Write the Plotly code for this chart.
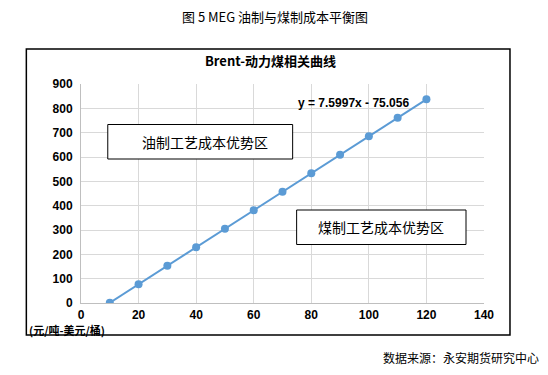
import plotly.graph_objects as go

# Data
brent = [10, 20, 30, 40, 50, 60, 70, 80, 90, 100, 110, 120]
coal = [1, 77, 153, 229, 305, 381, 457, 533, 609, 685, 761, 837]
x_ticks = [0, 20, 40, 60, 80, 100, 120, 140]
y_ticks = [0, 100, 200, 300, 400, 500, 600, 700, 800, 900]

W, H = 548, 375
L, R, T, B = 80.7, 484.0, 84.0, 303.0


def px(x):
    return (x - L) / (R - L)


def py(y):
    return (B - y) / (B - T)


BLUE = "#5B9BD5"
CJK = "Noto Sans CJK SC, Microsoft YaHei, sans-serif"
NUM = "Liberation Sans, Arial, sans-serif"

fig = go.Figure()
fig.add_trace(go.Scatter(
    x=brent, y=coal, mode="lines+markers",
    line=dict(color=BLUE, width=2),
    marker=dict(color=BLUE, size=8),
    showlegend=False, hoverinfo="skip",
))

fig.update_layout(
    width=W, height=H,
    margin=dict(l=L, r=W - R, t=T, b=H - B),
    paper_bgcolor="white", plot_bgcolor="white",
    xaxis=dict(range=[0, 140], tickvals=x_ticks, showgrid=True, gridcolor="#D9D9D9",
               gridwidth=1, zeroline=False, showline=True, linecolor="#BFBFBF",
               tickfont=dict(family=NUM, size=12, color="black", weight="bold"),
               ticks="", ticklabelstandoff=1, mirror=False),
    yaxis=dict(range=[0, 900], tickvals=y_ticks, showgrid=True, gridcolor="#D9D9D9",
               gridwidth=1, zeroline=False, showline=True, linecolor="#BFBFBF",
               tickfont=dict(family=NUM, size=12, color="black", weight="bold"),
               ticks="", ticklabelstandoff=5),
)

shapes = [
    # outer chart frame
    dict(type="rect", xref="paper", yref="paper",
         x0=px(26), x1=px(510), y0=py(335), y1=py(49),
         line=dict(color="black", width=1.5), fillcolor="rgba(0,0,0,0)", layer="above"),
    # region boxes
    dict(type="rect", xref="paper", yref="paper",
         x0=px(107.5), x1=px(292.5), y0=py(159), y1=py(124.5),
         line=dict(color="black", width=1), fillcolor="white", layer="above"),
    dict(type="rect", xref="paper", yref="paper",
         x0=px(296.5), x1=px(466), y0=py(244.5), y1=py(210),
         line=dict(color="black", width=1), fillcolor="white", layer="above"),
]
fig.update_layout(shapes=shapes)

anns = [
    dict(text="图 5 MEG 油制与煤制成本平衡图", x=px(275), y=py(16),
         font=dict(family=CJK, size=13, color="black")),
    dict(text="<b>Brent-动力煤相关曲线</b>", x=px(270), y=py(60),
         font=dict(family=CJK, size=13, color="black")),
    dict(text="<b>y = 7.5997x - 75.056</b>", x=px(353), y=py(103),
         font=dict(family=NUM, size=12, color="black")),
    dict(text="油制工艺成本优势区", x=px(205), y=py(141.5),
         font=dict(family=CJK, size=14, color="black")),
    dict(text="煤制工艺成本优势区", x=px(381), y=py(227),
         font=dict(family=CJK, size=14, color="black")),
    dict(text="(元/吨-美元/桶)", x=px(27), y=py(330), xanchor="left",
         font=dict(family=CJK, size=11, color="black", weight="bold")),
    dict(text="数据来源：永安期货研究中心", x=px(541), y=py(357), xanchor="right",
         font=dict(family=CJK, size=12, color="black")),
]
for a in anns:
    a.setdefault("xanchor", "center")
    a.update(xref="paper", yref="paper", yanchor="middle", showarrow=False)
    fig.add_annotation(**a)

fig.write_html("out.html", config={"displayModeBar": False},
               post_script="document.body.style.margin='0';document.body.style.overflow='hidden';")
